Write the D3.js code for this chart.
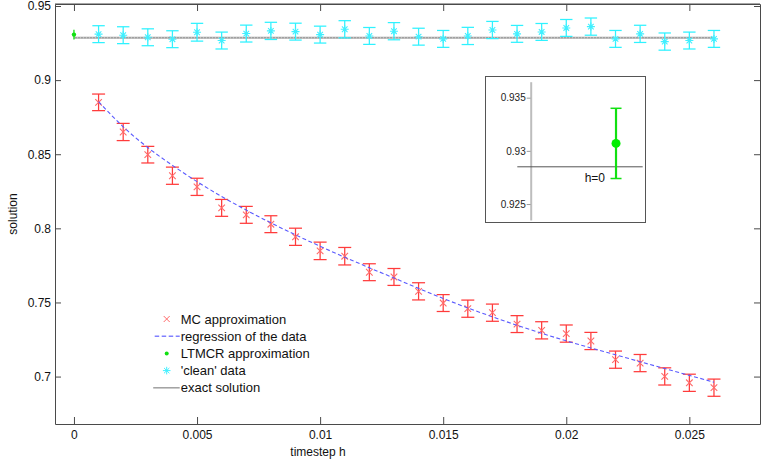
<!DOCTYPE html>
<html>
<head>
<meta charset="utf-8">
<script src="https://cdn.jsdelivr.net/npm/d3@7/dist/d3.min.js"></script>
<style>
  html, body { margin: 0; padding: 0; background: #fff; }
  svg { display: block; font-family: "Liberation Sans", Arial, Helvetica, sans-serif; }
</style>
</head>
<body>
<svg id="chart" width="761" height="463"></svg>
<script>
// ---------- data ----------
const xTicks = [0, 0.005, 0.01, 0.015, 0.02, 0.025];
const yTicks = [0.7, 0.75, 0.8, 0.85, 0.9, 0.95];
const insetTicks = [0.925, 0.93, 0.935];

const hValues = [0.001, 0.002, 0.003, 0.004, 0.005, 0.006, 0.007, 0.008, 0.009, 0.010,
                 0.011, 0.012, 0.013, 0.014, 0.015, 0.016, 0.017, 0.018, 0.019, 0.020,
                 0.021, 0.022, 0.023, 0.024, 0.025, 0.026];

const mcValues = [0.8850, 0.8650, 0.8497, 0.8355, 0.8280, 0.8138, 0.8091, 0.8028, 0.7943, 0.7848,
                  0.7812, 0.7704, 0.7672, 0.7575, 0.7496, 0.7458, 0.7431, 0.7354, 0.7312, 0.7290,
                  0.7240, 0.7114, 0.7091, 0.7001, 0.6958, 0.6925];
const mcErr = [0.0056, 0.0058, 0.0056, 0.0058, 0.0058, 0.0057, 0.0057, 0.0057, 0.0058, 0.0059,
               0.0059, 0.0057, 0.0057, 0.0058, 0.0057, 0.0058, 0.0058, 0.0057, 0.0058, 0.0058,
               0.0058, 0.0058, 0.0058, 0.0058, 0.0058, 0.0058];

const regressionValues = [0.8855, 0.8685, 0.8545, 0.8425, 0.8315, 0.8215, 0.8123, 0.8037, 0.7956, 0.7879,
                          0.7805, 0.7734, 0.7665, 0.7595, 0.7527, 0.7463, 0.7403, 0.7346, 0.7292, 0.7241,
                          0.7193, 0.7147, 0.7100, 0.7054, 0.7008, 0.6962];

const cleanValues = [0.9310, 0.9303, 0.9289, 0.9276, 0.9323, 0.9267, 0.9314, 0.9332, 0.9327, 0.9307,
                     0.9343, 0.9298, 0.9330, 0.9293, 0.9278, 0.9298, 0.9338, 0.9312, 0.9325, 0.9352,
                     0.9361, 0.9278, 0.9312, 0.9260, 0.9267, 0.9278];
const cleanErr = [0.0057, 0.0057, 0.0057, 0.0057, 0.0060, 0.0057, 0.0057, 0.0058, 0.0057, 0.0057,
                  0.0058, 0.0057, 0.0058, 0.0057, 0.0057, 0.0058, 0.0058, 0.0057, 0.0057, 0.0057,
                  0.0058, 0.0057, 0.0058, 0.0058, 0.0057, 0.0057];

const ltmcrH = [0];
const ltmcrValues = [0.9307];
const ltmcrErr = [0.0033];

const exactValue = 0.9285;
const exactRange = [0, 0.026];

const legendLabels = ["MC approximation", "regression of the data", "LTMCR approximation", "'clean' data", "exact solution"];
const insetLabel = "h=0";
const xLabel = "timestep h";
const yLabel = "solution";

// ---------- setup ----------
const svg = d3.select("#chart");
const plot = { left: 55, right: 760, top: 4, bottom: 424 };

const x = d3.scaleLinear().domain([-0.00077, 0.02787]).range([plot.left, plot.right]);
const y = d3.scaleLinear().domain([0.668, 0.95135]).range([plot.bottom, plot.top]);

const axisColor = "#4a4a4a";
const red = "#ff3b3b", redMarker = "#ff6a6a";
const cyan = "#2ef2ff", cyanMarker = "#40f0ff";
const green = "#11e011";
const blue = "#5a5aff";
const gray = "#a0a0a0";

// ---------- axes ----------
function styleAxis(g) {
  g.selectAll("path.domain").attr("stroke", axisColor).attr("stroke-width", 1).attr("fill", "none");
  g.selectAll(".tick line").attr("stroke", axisColor).attr("stroke-width", 1);
  g.selectAll(".tick text").attr("fill", "#111").attr("font-size", 12)
    .attr("font-family", '"Liberation Sans", Arial, Helvetica, sans-serif');
}
const fmt = d => String(d);

const gx = svg.append("g").attr("transform", `translate(0,${plot.bottom})`)
  .call(d3.axisBottom(x).tickValues(xTicks).tickFormat(fmt).tickSizeInner(-7).tickSizeOuter(0).tickPadding(6));
styleAxis(gx);

const gxTop = svg.append("g").attr("transform", `translate(0,${plot.top})`)
  .call(d3.axisTop(x).tickValues(xTicks).tickFormat("").tickSizeInner(-7).tickSizeOuter(0));
styleAxis(gxTop);

const gy = svg.append("g").attr("transform", `translate(${plot.left},0)`)
  .call(d3.axisLeft(y).tickValues(yTicks).tickFormat(fmt).tickSizeInner(-6).tickSizeOuter(0).tickPadding(4));
styleAxis(gy);

const gyRight = svg.append("g").attr("transform", `translate(${plot.right},0)`)
  .call(d3.axisRight(y).tickValues(yTicks).tickFormat("").tickSizeInner(-6).tickSizeOuter(0));
styleAxis(gyRight);

// axis titles
svg.append("text").attr("x", 318).attr("y", 456)
  .attr("text-anchor", "middle").attr("font-size", 12).attr("fill", "#111").text(xLabel);
svg.append("text").attr("transform", `translate(17,${(plot.top + plot.bottom) / 2}) rotate(-90)`)
  .attr("text-anchor", "middle").attr("font-size", 12).attr("fill", "#111").text(yLabel);

// ---------- marks ----------
const mcData = hValues.map((h, i) => ({ h, v: mcValues[i], e: mcErr[i] }));
const cleanData = hValues.map((h, i) => ({ h, v: cleanValues[i], e: cleanErr[i] }));
const regData = hValues.map((h, i) => ({ h, v: regressionValues[i] }));
const ltmcrData = ltmcrH.map((h, i) => ({ h, v: ltmcrValues[i], e: ltmcrErr[i] }));

function errorBars(g, data, color, cap, width) {
  const eb = g.selectAll(null).data(data).enter().append("g");
  eb.append("line").attr("x1", d => x(d.h)).attr("x2", d => x(d.h))
    .attr("y1", d => y(d.v - d.e)).attr("y2", d => y(d.v + d.e))
    .attr("stroke", color).attr("stroke-width", width);
  if (cap > 0) {
    eb.append("line").attr("x1", d => x(d.h) - cap).attr("x2", d => x(d.h) + cap)
      .attr("y1", d => y(d.v + d.e)).attr("y2", d => y(d.v + d.e))
      .attr("stroke", color).attr("stroke-width", width);
    eb.append("line").attr("x1", d => x(d.h) - cap).attr("x2", d => x(d.h) + cap)
      .attr("y1", d => y(d.v - d.e)).attr("y2", d => y(d.v - d.e))
      .attr("stroke", color).attr("stroke-width", width);
  }
}
const crossPath = s => `M${-s},${-s}L${s},${s}M${-s},${s}L${s},${-s}`;
const starPath = s => `M${-s},0L${s},0M0,${-s}L0,${s}M${-s*0.7},${-s*0.7}L${s*0.7},${s*0.7}M${-s*0.7},${s*0.7}L${s*0.7},${-s*0.7}`;

const marks = svg.append("g");

// exact solution line
const lineGen = d3.line().x(d => x(d.h)).y(d => y(d.v));
const exactData = exactRange.map(h => ({ h, v: exactValue }));
marks.append("path").datum(exactData).attr("d", lineGen)
  .attr("stroke", gray).attr("stroke-width", 2).attr("fill", "none");
marks.append("path").datum(exactData).attr("d", lineGen)
  .attr("stroke", "#d8d8d8").attr("stroke-width", 1).attr("stroke-dasharray", "1,2").attr("fill", "none");

// MC approximation
errorBars(marks, mcData, red, 6.5, 1.25);
marks.selectAll(null).data(mcData).enter().append("path")
  .attr("transform", d => `translate(${x(d.h)},${y(d.v)})`)
  .attr("d", crossPath(3.3)).attr("stroke", redMarker).attr("stroke-width", 1.1).attr("fill", "none");

// regression line
marks.append("path").datum(regData).attr("d", d3.line().curve(d3.curveMonotoneX).x(d => x(d.h)).y(d => y(d.v)))
  .attr("stroke", blue).attr("stroke-width", 1.1).attr("stroke-dasharray", "4,2.5").attr("fill", "none");

// clean data
errorBars(marks, cleanData, cyan, 6.2, 1.25);
marks.selectAll(null).data(cleanData).enter().append("path")
  .attr("transform", d => `translate(${x(d.h)},${y(d.v)})`)
  .attr("d", starPath(4)).attr("stroke", cyanMarker).attr("stroke-width", 1.1).attr("fill", "none");

// LTMCR
errorBars(marks, ltmcrData, green, 0, 1.3);
marks.selectAll(null).data(ltmcrData).enter().append("circle")
  .attr("cx", d => x(d.h)).attr("cy", d => y(d.v)).attr("r", 2.2).attr("fill", green);

// top border
svg.append("line").attr("x1", plot.left).attr("x2", plot.right).attr("y1", plot.top).attr("y2", plot.top)
  .attr("stroke", axisColor).attr("stroke-width", 1);

// ---------- legend ----------
const legend = svg.append("g").attr("transform", "translate(166.7,319)");
const rowH = 17.2;
const leg = legend.selectAll(null).data(legendLabels).enter().append("g")
  .attr("transform", (d, i) => `translate(0,${i * rowH})`);
leg.append("text").attr("x", 14).attr("y", 0).attr("dy", "0.36em").attr("font-size", 13).attr("fill", "#111").text(d => d);
legend.append("path").attr("d", crossPath(3)).attr("stroke", redMarker).attr("stroke-width", 1).attr("fill", "none");
legend.append("line").attr("x1", -12).attr("x2", 13).attr("y1", rowH).attr("y2", rowH)
  .attr("stroke", "#8080ff").attr("stroke-width", 1.5).attr("stroke-dasharray", "4.5,2.5");
legend.append("circle").attr("cx", 0).attr("cy", 2 * rowH).attr("r", 2).attr("fill", green);
legend.append("path").attr("transform", `translate(0,${3 * rowH})`).attr("d", starPath(3.8))
  .attr("stroke", cyanMarker).attr("stroke-width", 1).attr("fill", "none");
legend.append("line").attr("x1", -13.5).attr("x2", 13).attr("y1", 4 * rowH).attr("y2", 4 * rowH)
  .attr("stroke", gray).attr("stroke-width", 1.5);

// ---------- inset ----------
const inset = svg.append("g");
inset.append("rect").attr("x", 485.5).attr("y", 76.5).attr("width", 160).attr("height", 146)
  .attr("fill", "#fff").attr("stroke", "#555").attr("stroke-width", 1);
const ix = d3.scaleLinear().domain([-3.7, 1]).range([517.3, 642.7]);
const iy = d3.scaleLinear().domain([0.9235, 0.9365]).range([220, 81.7]);

const giy = inset.append("g").attr("transform", "translate(530.7,0)")
  .call(d3.axisLeft(iy).tickValues(insetTicks).tickFormat(fmt).tickSizeInner(4).tickSizeOuter(0).tickPadding(1));
giy.selectAll("path.domain").attr("stroke", "#bdbdbd").attr("stroke-width", 2).attr("fill", "none");
giy.selectAll(".tick line").attr("stroke", "#9a9a9a");
giy.selectAll(".tick text").attr("font-size", 10).attr("fill", "#222")
  .attr("font-family", '"Liberation Sans", Arial, Helvetica, sans-serif');

inset.append("path").datum(ix.domain().map(h => ({ h, v: exactValue })))
  .attr("d", d3.line().x(d => ix(d.h)).y(d => iy(d.v)))
  .attr("stroke", "#555").attr("stroke-width", 1).attr("fill", "none");

const ig = inset.selectAll(null).data(ltmcrData).enter().append("g");
ig.append("line").attr("x1", d => ix(d.h)).attr("x2", d => ix(d.h))
  .attr("y1", d => iy(d.v - d.e)).attr("y2", d => iy(d.v + d.e)).attr("stroke", green).attr("stroke-width", 2.2);
ig.append("line").attr("x1", d => ix(d.h) - 5.5).attr("x2", d => ix(d.h) + 5.5)
  .attr("y1", d => iy(d.v + d.e)).attr("y2", d => iy(d.v + d.e)).attr("stroke", green).attr("stroke-width", 1.5);
ig.append("line").attr("x1", d => ix(d.h) - 5.5).attr("x2", d => ix(d.h) + 5.5)
  .attr("y1", d => iy(d.v - d.e)).attr("y2", d => iy(d.v - d.e)).attr("stroke", green).attr("stroke-width", 1.5);
ig.append("circle").attr("cx", d => ix(d.h)).attr("cy", d => iy(d.v)).attr("r", 4.5).attr("fill", "#00ee00");
inset.append("text").attr("x", ix(0) - 11).attr("y", iy(exactValue) + 15.5)
  .attr("text-anchor", "end").attr("font-size", 12).attr("fill", "#111").text(insetLabel);
</script>
</body>
</html>
